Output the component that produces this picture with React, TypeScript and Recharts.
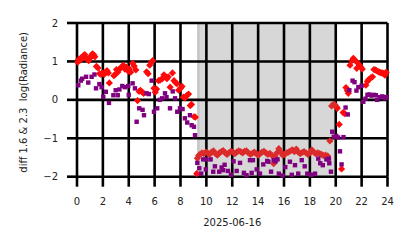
import React from 'react';
import { ScatterChart, Scatter, XAxis, YAxis, CartesianGrid, ReferenceArea } from 'recharts';

const xTicks = [0, 2, 4, 6, 8, 10, 12, 14, 16, 18, 20, 22, 24];
const yTicks = [-2, -1, 0, 1, 2];
const dateLabel = '2025-06-16';
const yLabel = 'diff 1.6 & 2.3\u00a0 log(Radiance)';
const shadeStart = 9.3;
const shadeEdge = 9.47;
const shadeEnd = 20;

// red diamonds, outside the shaded period (hour, value)
const redHours = [0.05, 0.12, 0.22, 0.32, 0.42, 0.5, 0.6, 0.7, 0.8, 0.9, 1.0, 1.1, 1.2, 1.3, 1.38, 1.5, 1.62, 1.75, 1.85, 1.95, 2.1, 2.2, 2.32, 2.42, 2.5, 2.85, 2.95, 3.05, 3.15, 3.3, 3.45, 3.58, 3.7, 3.82, 3.95, 4.05, 4.15, 4.3, 4.42, 4.55, 4.68, 4.8, 4.9, 5.05, 5.15, 5.38, 5.5, 5.62, 5.75, 5.85, 5.95, 6.05, 6.15, 6.3, 6.45, 6.6, 6.72, 6.82, 6.95, 7.05, 7.2, 7.38, 7.5, 7.62, 7.72, 7.85, 8.0, 8.12, 8.22, 8.35, 8.5, 8.62, 8.75, 8.85, 9.05, 9.15, 9.25,
  20.05, 20.12, 20.27, 20.45, 20.57, 20.7, 20.79, 20.9, 20.97, 21.1, 21.25, 21.36, 21.5, 21.62, 21.72, 21.83, 21.95, 22.05, 22.33, 22.45, 22.55, 22.7, 22.84, 22.95, 23.05, 23.15, 23.3, 23.4, 23.5, 23.6, 23.7, 23.8, 23.9];
const redValues = [0.98, 1.05, 1.03, 1.1, 1.08, 1.15, 1.18, 1.1, 1.05, 1.02, 1.08, 1.15, 1.2, 1.17, 1.12, 0.87, 0.83, 0.68, 0.66, 0.7, 0.66, 0.72, 0.76, 0.7, 0.44, 0.63, 0.66, 0.79, 0.72, 0.8, 0.86, 0.9, 0.8, 0.85, 0.75, 0.8, 0.72, 0.95, 0.88, 0.78, -0.02, 0.22, 0.25, 0.2, 0.17, 0.73, 0.68, 0.9, 0.98, 1.02, 0.3, 0.2, 0.28, 0.5, 0.52, 0.55, 0.65, 0.6, 0.55, 0.6, 0.33, 0.7, 0.5, 0.45, 0.42, 0.25, 0.3, 0.35, 0.07, 0.05, 0.12, 0.15, -0.15, -0.12, -0.44, -0.45, -1.92,
  -0.18, -0.22, -0.64, -1.8, -0.33, -0.36, 0.32, 0.24, 0.17, 0.9, 1.02, 1.08, 1.03, 0.82, 0.95, 0.9, 0.85, 0.8, 0.38, 0.48, 0.53, 0.57, 0.6, 0.79, 0.78, 0.76, 0.73, 0.72, 0.7, 0.7, 0.68, 0.64, 0.72];

// red diamonds during the shaded period
const redShadeHours = [9.3, 9.4, 9.5, 9.65, 9.8, 9.95, 10.1, 10.25, 10.4, 10.55, 10.7, 10.85, 11.0, 11.15, 11.3, 11.45, 11.6, 11.75, 11.9, 12.05, 12.2, 12.35, 12.5, 12.65, 12.8, 12.95, 13.1, 13.25, 13.4, 13.55, 13.7, 13.85, 14.0, 14.15, 14.3, 14.45, 14.6, 14.75, 14.9, 15.05, 15.2, 15.3, 15.45, 15.6, 15.75, 15.9, 16.05, 16.2, 16.35, 16.5, 16.65, 16.8, 16.95, 17.1, 17.25, 17.4, 17.55, 17.7, 17.85, 18.0, 18.15, 18.3, 18.45, 18.6, 18.75, 18.9, 19.05, 19.2, 19.37, 19.55, 19.68, 19.8, 19.94];
const redShadeValues = [-1.52, -1.45, -1.42, -1.38, -1.4, -1.36, -1.38, -1.42, -1.36, -1.33, -1.4, -1.44, -1.38, -1.35, -1.32, -1.38, -1.42, -1.37, -1.34, -1.36, -1.4, -1.36, -1.33, -1.35, -1.38, -1.34, -1.33, -1.38, -1.42, -1.39, -1.36, -1.4, -1.44, -1.4, -1.36, -1.34, -1.38, -1.42, -1.39, -1.44, -1.66, -1.48, -1.38, -1.27, -1.36, -1.44, -1.42, -1.38, -1.36, -1.33, -1.3, -1.35, -1.28, -1.36, -1.4, -1.37, -1.35, -1.38, -1.42, -1.38, -1.3, -1.36, -1.4, -1.38, -1.4, -1.42, -1.45, -1.44, -1.46, -1.07, -0.16, -0.12, -0.13];

// purple squares
const purpleHours = [0.1, 0.3, 0.4, 0.7, 0.87, 1.13, 1.35, 1.47, 1.73, 1.9, 2.03, 2.23, 2.47, 2.81, 2.99, 3.15, 3.28, 3.5, 3.7, 3.96, 4.0, 4.3, 4.48, 4.61, 4.81, 5.07, 5.18, 5.38, 5.55, 5.77, 5.95, 6.2, 6.4, 6.58, 6.8, 6.92, 7.19, 7.4, 7.58, 7.75, 7.96, 8.16, 8.34, 8.52, 8.73, 8.86, 9.04, 9.12,
  9.3, 9.45, 9.6, 9.76, 9.96, 10.0, 10.33, 10.53, 10.66, 10.99, 11.18, 11.3, 11.41, 11.67, 11.9, 12.1, 12.34, 12.6, 12.9, 13.1, 13.37, 13.5, 13.6, 13.89, 14.14, 14.4, 14.7, 14.8, 15.0, 15.2, 15.35, 15.5, 15.6, 15.9, 16.1, 16.46, 16.6, 16.85, 17.1, 17.37, 17.6, 17.8, 18.1, 18.4, 18.65, 18.8, 19.0, 19.28, 19.47, 19.5, 19.63,
  19.73, 19.85, 20.04, 20.18, 20.33, 20.45, 20.6, 20.76, 20.93, 21.05, 21.3, 21.45, 21.6, 21.75, 22.0, 22.13, 22.3, 22.45, 22.6, 22.76, 22.95, 23.1, 23.2, 23.4, 23.6, 23.8, 23.9];
const purpleValues = [0.38, 0.5, 0.55, 0.6, 0.45, 0.6, 0.66, 0.3, 0.41, 0.33, 0.08, 0.21, -0.08, 0.12, 0.25, 0.12, 0.27, 0.36, 0.33, 0.36, 0.13, 0.43, 0.3, -0.57, -0.22, -0.26, -0.4, 0.17, 0.15, 0.5, -0.31, -0.22, 0.0, 0.04, 0.17, 0.07, -0.22, 0.22, 0.04, -0.31, -0.22, -0.24, -0.48, -0.59, -0.4, -0.66, -0.7, -0.92,
  -1.64, -1.78, -1.92, -1.55, -1.81, -1.55, -1.55, -1.87, -1.73, -1.87, -1.76, -1.83, -1.69, -1.85, -1.95, -1.6, -1.85, -1.64, -1.9, -1.96, -1.57, -1.9, -1.57, -1.81, -1.92, -1.68, -1.59, -1.61, -1.87, -1.57, -1.6, -1.55, -1.92, -1.97, -1.75, -1.61, -1.95, -1.7, -1.92, -1.57, -1.73, -1.92, -1.95, -1.92, -1.53, -1.65, -1.7, -1.55, -1.53, -1.65, -1.87,
  -0.83, -0.96, -0.94, -0.98, -1.34, -1.68, -0.97, -0.2, -0.38, 0.25, 0.5, 0.46, 0.24, 0.33, 0.37, -0.05, 0.03, 0.13, 0.14, 0.11, 0.13, 0.12, 0.0, 0.07, 0.09, 0.04, 0.07];

const toPoints = (hs: number[], vs: number[]) => hs.map((h, i) => ({ x: h, y: vs[i] }));
const redData = toPoints(redHours, redValues);
const redShadeData = toPoints(redShadeHours, redShadeValues);
const purpleData = toPoints(purpleHours, purpleValues);

const FONT = 'DejaVu Sans';
const LINE_W = 2.6;

const Diamond = (color: string) => (props: any) => {
  const { cx, cy } = props;
  if (cx == null || cy == null) return null;
  const r = 3.6;
  return <polygon points={`${cx},${cy - r} ${cx + r},${cy} ${cx},${cy + r} ${cx - r},${cy}`} fill={color} />;
};

const Square = (color: string) => (props: any) => {
  const { cx, cy } = props;
  if (cx == null || cy == null) return null;
  const s = 4.4;
  return <rect x={cx - s / 2} y={cy - s / 2} width={s} height={s} fill={color} />;
};

const fmtY = (v: number) => (v < 0 ? '\u2212' + Math.abs(v) : String(v));

const YLab = (props: any) => {
  const vb = props.viewBox || {};
  const cx = (vb.x ?? 0) + 23.5;
  const cy = (vb.y ?? 0) + (vb.height ?? 0) / 2 + 2.5;
  return (
    <text x={cx} y={cy} transform={`rotate(-90 ${cx} ${cy})`} textAnchor="middle" dominantBaseline="central" fontFamily={FONT} fontSize={10} fill="#222">
      {yLabel}
    </text>
  );
};

const XLab = (props: any) => {
  const vb = props.viewBox || {};
  const cx = (vb.x ?? 0) + (vb.width ?? 0) / 2;
  const by = (vb.y ?? 0) + 49.5;
  return (
    <text x={cx} y={by} textAnchor="middle" fontFamily={FONT} fontSize={10} fill="#222">
      {dateLabel}
    </text>
  );
};

const tickStyle = { fontFamily: FONT, fontSize: 10, fill: '#222' };
const tickLineStyle = { stroke: '#000', strokeWidth: LINE_W };

export default function App() {
  return (
    <div style={{ width: 414, height: 248, margin: -8 }}>
      <ScatterChart width={414} height={248} margin={{ top: 23, right: 26.5, bottom: 21.3, left: 0 }}>
        <ReferenceArea x1={shadeStart} x2={shadeEnd} y1={-2} y2={2} fill="#d7d7d7" fillOpacity={1} stroke="none" zIndex={-150} />
        <ReferenceArea x1={shadeStart} x2={shadeEdge} y1={-2} y2={2} fill="#c3c3c3" fillOpacity={1} stroke="none" zIndex={-140} />
        <CartesianGrid stroke="#000" strokeWidth={LINE_W} />
        <XAxis
          type="number"
          dataKey="x"
          domain={[0, 24]}
          ticks={xTicks}
          height={50}
          tickSize={10}
          tickMargin={11}
          axisLine={false}
          tickLine={tickLineStyle}
          tick={tickStyle}
          label={<XLab />}
        />
        <YAxis
          type="number"
          dataKey="y"
          domain={[-2, 2]}
          ticks={yTicks}
          width={77}
          tickSize={10}
          tickMargin={9}
          axisLine={false}
          tickLine={tickLineStyle}
          tick={tickStyle}
          tickFormatter={fmtY}
          label={<YLab />}
        />
        <Scatter data={redData} shape={Diamond('#ff0a0a')} isAnimationActive={false} />
        <Scatter data={redShadeData} shape={Diamond('#dc2b2b')} isAnimationActive={false} />
        <Scatter data={purpleData} shape={Square('#800080')} isAnimationActive={false} />
      </ScatterChart>
    </div>
  );
}
